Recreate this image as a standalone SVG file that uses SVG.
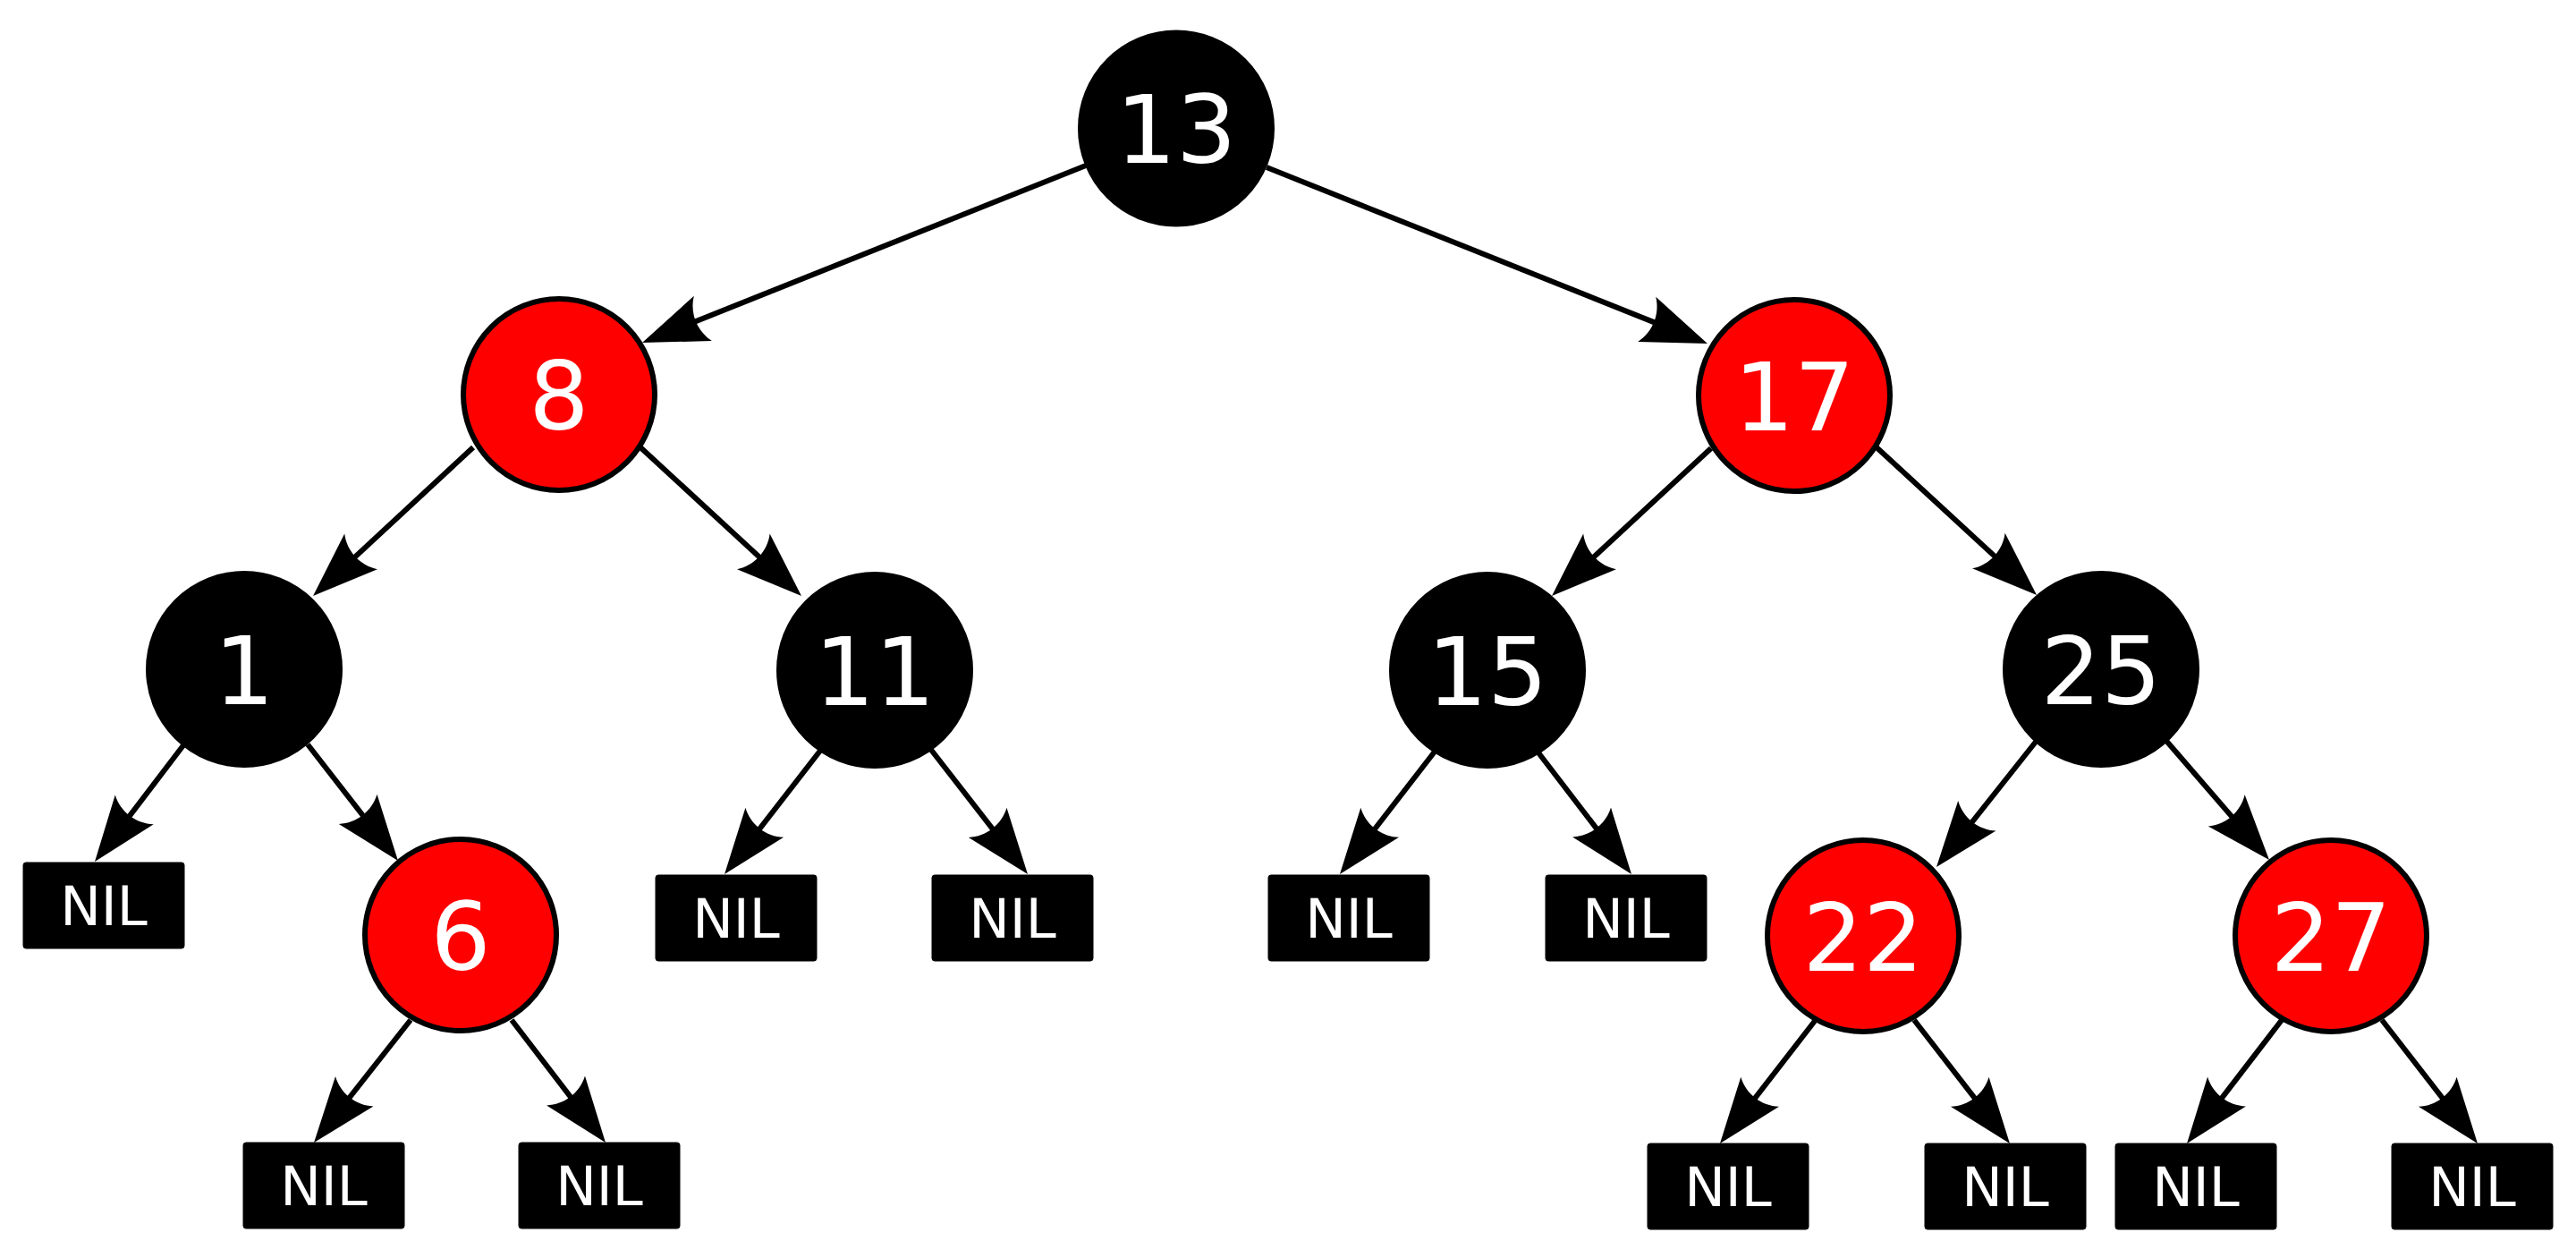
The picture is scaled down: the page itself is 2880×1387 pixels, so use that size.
<svg xmlns="http://www.w3.org/2000/svg" width="2880" height="1387" viewBox="0 0 2880 1387">
<style>
.bg{fill:#ffffff}
.edge{fill:none;stroke:#000;stroke-width:6;marker-end:url(#arr)}
.blk{fill:#000;stroke:#000;stroke-width:6}
.red{fill:#ff0000;stroke:#000;stroke-width:6}
.nil{fill:#000;stroke:#000;stroke-width:1}
.num{font-family:"DejaVu Sans",sans-serif;font-size:106px;fill:#fff;text-anchor:middle}
.nt{font-family:"DejaVu Sans",sans-serif;font-size:61px;fill:#fff;text-anchor:middle}
</style>
<defs>
<marker id="arr" markerUnits="userSpaceOnUse" orient="auto" overflow="visible" refX="0" refY="0" markerWidth="1" markerHeight="1">
<path d="M20,0 L-53,27 C-41.5,11 -41.5,-11 -53,-27 Z" fill="#000"/>
</marker>
</defs>
<rect class="bg" x="0" y="0" width="2880" height="1387"/>
<g id="connectors">
<path class="edge" d="M1214,185 L736.6,375.6"/>
<path class="edge" d="M1416,187 L1890.4,376.6"/>
<path class="edge" d="M529,500 L364.7,652.4"/>
<path class="edge" d="M716,500 L881.3,652.4"/>
<path class="edge" d="M1913,501 L1749.7,652.4"/>
<path class="edge" d="M2098,500 L2262.3,651.4"/>
<path class="edge" d="M205,833 L118.1,947.1"/>
<path class="edge" d="M344,832 L432.7,946.2"/>
<path class="edge" d="M917,839 L822.3,961.2"/>
<path class="edge" d="M1041,838 L1136.7,961.2"/>
<path class="edge" d="M1604,840 L1510.2,961.2"/>
<path class="edge" d="M1719,840 L1811.8,961.1"/>
<path class="edge" d="M2276,829 L2177.4,953.3"/>
<path class="edge" d="M2422,828 L2523.9,945.9"/>
<path class="edge" d="M459,1140 L363.4,1261.3"/>
<path class="edge" d="M572,1140 L664.8,1261.1"/>
<path class="edge" d="M2029,1141 L1935.2,1262.2"/>
<path class="edge" d="M2140,1140 L2234.7,1262.2"/>
<path class="edge" d="M2551,1140 L2457.2,1262.1"/>
<path class="edge" d="M2663,1140 L2757.7,1262.2"/>
</g>
<g id="n13"><circle class="blk" cx="1315" cy="143.5" r="107"/><text class="num" x="1315" y="182">13</text></g>
<g id="n8"><circle class="red" cx="625" cy="441" r="107"/><text class="num" x="625" y="479.5">8</text></g>
<g id="n17"><circle class="red" cx="2006" cy="442" r="107"/><text class="num" x="2006" y="480.5">17</text></g>
<g id="n1"><circle class="blk" cx="273" cy="748" r="107"/><text class="num" x="273" y="786.5">1</text></g>
<g id="n11"><circle class="blk" cx="978" cy="749" r="107"/><text class="num" x="978" y="787.5">11</text></g>
<g id="n15"><circle class="blk" cx="1663" cy="749" r="107"/><text class="num" x="1663" y="787.5">15</text></g>
<g id="n25"><circle class="blk" cx="2349" cy="748" r="107"/><text class="num" x="2349" y="786.5">25</text></g>
<g id="n6"><circle class="red" cx="515" cy="1045" r="107"/><text class="num" x="515" y="1083.5">6</text></g>
<g id="n22"><circle class="red" cx="2083" cy="1046" r="107"/><text class="num" x="2083" y="1084.5">22</text></g>
<g id="n27"><circle class="red" cx="2606" cy="1046" r="107"/><text class="num" x="2606" y="1084.5">27</text></g>
<g id="nil1"><rect class="nil" x="26" y="964" width="180" height="96" rx="3"/><text class="nt" x="116" y="1034">NIL</text></g>
<g id="nil2"><rect class="nil" x="733" y="978" width="180" height="96" rx="3"/><text class="nt" x="823" y="1048">NIL</text></g>
<g id="nil3"><rect class="nil" x="1042" y="978" width="180" height="96" rx="3"/><text class="nt" x="1132" y="1048">NIL</text></g>
<g id="nil4"><rect class="nil" x="1418" y="978" width="180" height="96" rx="3"/><text class="nt" x="1508" y="1048">NIL</text></g>
<g id="nil5"><rect class="nil" x="1728" y="978" width="180" height="96" rx="3"/><text class="nt" x="1818" y="1048">NIL</text></g>
<g id="nil6"><rect class="nil" x="272" y="1277" width="180" height="96" rx="3"/><text class="nt" x="362" y="1347">NIL</text></g>
<g id="nil7"><rect class="nil" x="580" y="1277" width="180" height="96" rx="3"/><text class="nt" x="670" y="1347">NIL</text></g>
<g id="nil8"><rect class="nil" x="1842" y="1278" width="180" height="96" rx="3"/><text class="nt" x="1932" y="1348">NIL</text></g>
<g id="nil9"><rect class="nil" x="2152" y="1278" width="180" height="96" rx="3"/><text class="nt" x="2242" y="1348">NIL</text></g>
<g id="nil10"><rect class="nil" x="2365" y="1278" width="180" height="96" rx="3"/><text class="nt" x="2455" y="1348">NIL</text></g>
<g id="nil11"><rect class="nil" x="2674" y="1278" width="180" height="96" rx="3"/><text class="nt" x="2764" y="1348">NIL</text></g>
</svg>
